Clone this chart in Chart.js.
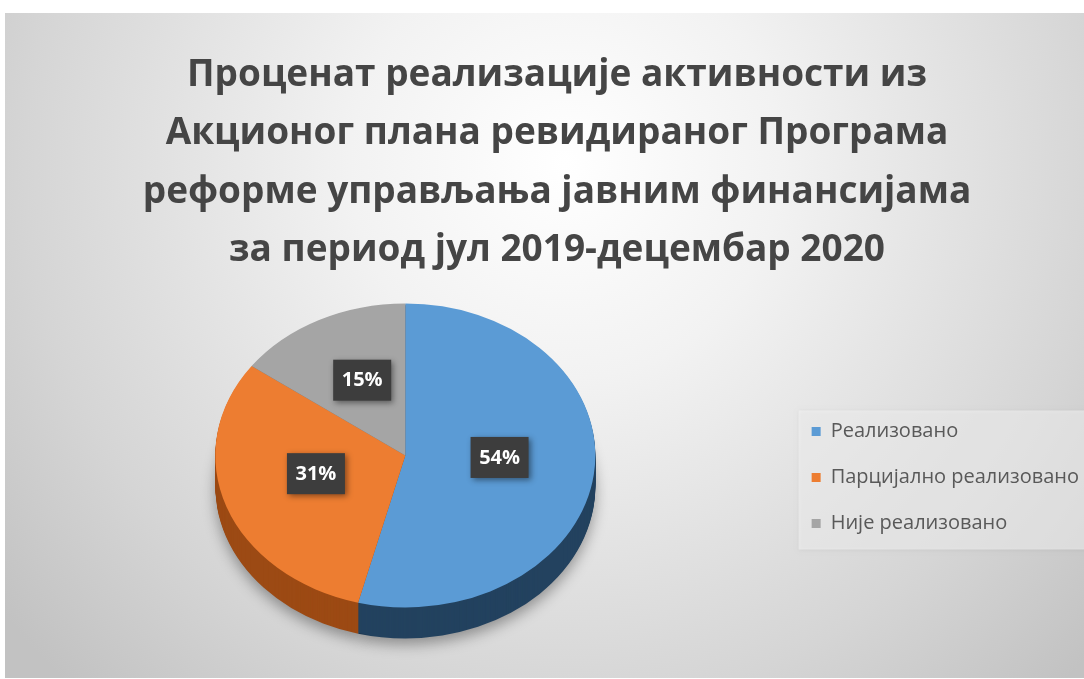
<!DOCTYPE html>
<html>
<head>
<meta charset="utf-8">
<script src="https://cdn.jsdelivr.net/npm/chart.js@4"></script>
<style>
  html, body { margin: 0; background: #fff; overflow: hidden; }
  #wrap { position: absolute; left: 5px; top: 13px; width: 1100px; height: 665px; }
</style>
</head>
<body>
<div id="wrap"><canvas id="pieChart"></canvas></div>
<script>
const titleLines = [
  "Проценат реализације активности из",
  "Акционог плана ревидираног Програма",
  "реформе управљања јавним финансијама",
  "за период јул 2019-децембар 2020"
];
const categories = ["Реализовано", "Парцијално реализовано", "Није реализовано"];
const shares = [54, 31, 15];

const topColors = ["#5b9bd5", "#ed7d31", "#a5a5a5"];
const wallColors = ["#23425f", "#9c4a14", "#6b6b6b"];

const TILT = 0.8;          // vertical squash of the pie face
const DEPTH = 31;          // thickness of the pie wall
const LEGEND_DROP = 142;   // legend sits beside the pie, not at the top of the area

// gradient backdrop + translucent panel behind the legend
const backdrop = {
  id: "backdrop",
  afterLayout(chart) {
    chart.legend.top += LEGEND_DROP;
    chart.legend.bottom += LEGEND_DROP;
  },
  beforeDraw(chart) {
    const { ctx, width, height } = chart;
    ctx.save();
    const g = ctx.createRadialGradient(560, 150, 0, 560, 150, 720);
    g.addColorStop(0, "#ffffff");
    g.addColorStop(0.3, "#f2f2f2");
    g.addColorStop(0.75, "#d5d5d5");
    g.addColorStop(1, "#c2c2c2");
    ctx.fillStyle = g;
    ctx.fillRect(0, 0, width, height);

    const boxes = chart.legend.legendHitBoxes;
    if (boxes && boxes.length) {
      const first = boxes[0], last = boxes[boxes.length - 1];
      ctx.fillStyle = "rgba(245,245,245,0.55)";
      ctx.shadowColor = "rgba(0,0,0,0.12)";
      ctx.shadowBlur = 4;
      ctx.fillRect(first.left - 13, first.top - 11, width, last.top + last.height + 16 - (first.top - 11));
    }
    ctx.restore();
  }
};

// wall under the pie, then the face drawn by Chart.js with a squashed transform
const tiltedPie = {
  id: "tiltedPie",
  beforeDatasetsDraw(chart) {
    const ctx = chart.ctx;
    const arcs = chart.getDatasetMeta(0).data;
    const { x, y } = arcs[0];
    for (let step = DEPTH; step >= 1; step--) {
      ctx.save();
      if (step === DEPTH) {
        ctx.shadowColor = "rgba(0,0,0,0.35)";
        ctx.shadowBlur = 14;
        ctx.shadowOffsetY = 6;
      }
      ctx.translate(x, y - DEPTH / 2 + step);
      ctx.scale(1, TILT);
      arcs.forEach((arc, i) => {
        ctx.beginPath();
        ctx.moveTo(0, 0);
        ctx.arc(0, 0, arc.outerRadius, arc.startAngle, arc.endAngle);
        ctx.closePath();
        ctx.fillStyle = wallColors[i];
        ctx.fill();
      });
      ctx.restore();
    }
    ctx.save();
    ctx.translate(x, y - DEPTH / 2);
    ctx.scale(1, TILT);
    ctx.translate(-x, -y);
  },
  afterDatasetsDraw(chart) {
    chart.ctx.restore();
  }
};

// dark percentage tags on each slice
const valueBoxes = {
  id: "valueBoxes",
  afterDraw(chart) {
    const ctx = chart.ctx;
    chart.getDatasetMeta(0).data.forEach((arc, i) => {
      const mid = (arc.startAngle + arc.endAngle) / 2;
      const r = arc.outerRadius * 0.5;
      const px = arc.x + Math.cos(mid) * r;
      const py = arc.y - DEPTH / 2 + Math.sin(mid) * r * TILT - 8;
      ctx.save();
      ctx.shadowColor = "rgba(0,0,0,0.45)";
      ctx.shadowBlur = 6;
      ctx.shadowOffsetX = 2;
      ctx.shadowOffsetY = 2;
      ctx.fillStyle = "#3d3d3d";
      ctx.fillRect(px - 29, py - 20, 58, 41);
      ctx.restore();
      ctx.save();
      ctx.fillStyle = "#ffffff";
      ctx.font = "bold 20px 'Open Sans'";
      ctx.textAlign = "center";
      ctx.textBaseline = "middle";
      ctx.fillText(shares[i] + "%", px, py + 1);
      ctx.restore();
    });
  }
};

new Chart(document.getElementById("pieChart").getContext("2d"), {
  type: "pie",
  data: {
    labels: categories,
    datasets: [{
      data: shares,
      backgroundColor: topColors,
      borderWidth: 0,
      radius: 190
    }]
  },
  options: {
    responsive: true,
    maintainAspectRatio: false,
    animation: false,
    layout: { padding: { left: 20, right: 16, top: 0, bottom: 20 } },
    plugins: {
      title: {
        display: true,
        text: titleLines,
        color: "#454545",
        font: { family: "'Open Sans'", size: 37, weight: "bold", lineHeight: 1.58 },
        padding: { top: 33, bottom: 4 }
      },
      legend: {
        position: "right",
        labels: {
          boxWidth: 9,
          boxHeight: 9,
          padding: 26,
          color: "#595959",
          font: { family: "'Open Sans'", size: 20 }
        }
      },
      tooltip: { enabled: false }
    }
  },
  plugins: [backdrop, tiltedPie, valueBoxes]
});
</script>
</body>
</html>
